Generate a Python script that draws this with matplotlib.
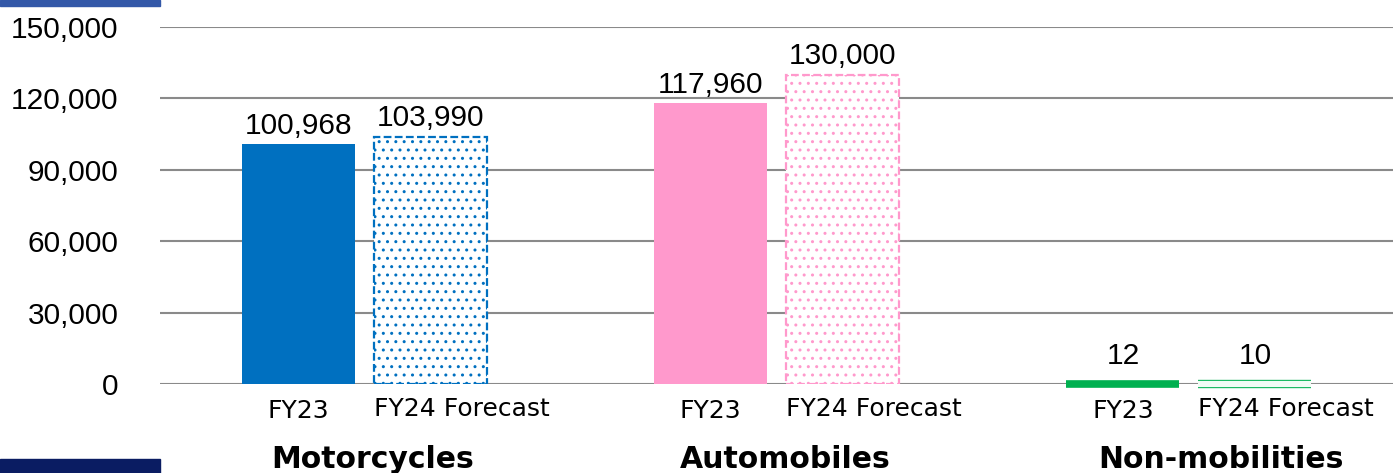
import matplotlib.pyplot as plt
from matplotlib.patches import Rectangle
from matplotlib import patheffects

# Unit sales by business segment
segments = ["Motorcycles", "Automobiles", "Non-mobilities"]
periods = ["FY23", "FY24 Forecast"]
fy23 = [100968, 117960, 12]
fy24_forecast = [103990, 130000, 10]
colors = ["#0070C0", "#FF99CC", "#00B050"]
yticks = [0, 30000, 60000, 90000, 120000, 150000]

num_font = "Liberation Sans"

fig = plt.figure(figsize=(13.93, 4.73), dpi=100)
ax = fig.add_axes([0.1149, 0.188, 0.8851, 0.755])
plt.rcParams["hatch.linewidth"] = 1.0

offset = 0.16
width = 0.274
label_shift = [0.02, 0.02, 0.078]
trans = ax.get_xaxis_transform()
for i, seg in enumerate(segments):
    small = fy23[i] < 1000
    x0 = i - offset
    x1 = i + offset
    # actual results: solid bar
    lw = 5.5 if small else 0
    ax.bar(x0, fy23[i], width=width, color=colors[i], edgecolor=colors[i],
           linewidth=lw, zorder=3, clip_on=False)
    # forecast: dotted fill with dashed outline
    if small:
        b1 = ax.bar(x1, fy24_forecast[i], width=width, color="white",
                    edgecolor=colors[i], linewidth=1, zorder=3, clip_on=False)
        b1[0].set_path_effects([
            patheffects.Stroke(linewidth=6, foreground=colors[i]),
            patheffects.Stroke(linewidth=4.5, foreground="#F2FBF5"),
        ])
    else:
        ax.bar(x1, fy24_forecast[i], width=width, color="white",
               edgecolor=colors[i], linewidth=1.6, linestyle=(0, (3.5, 1.5)),
               hatch="..", zorder=3)
    pad = 10 if small else 3
    for x, v in ((x0, fy23[i]), (x1, fy24_forecast[i])):
        ax.annotate(f"{v:,}", (x, v), xytext=(0, pad), textcoords="offset points",
                    ha="center", va="bottom", fontsize=21.5, family=num_font)
    # period labels under each bar
    ax.text(x0, -0.075, periods[0], transform=trans, ha="center", va="center",
            fontsize=18)
    ax.text(x1 - width / 2, -0.07, periods[1], transform=trans, ha="left",
            va="center", fontsize=18)
    ax.text(i + label_shift[i], -0.212, seg, transform=trans, ha="center",
            va="center", fontsize=21.5, fontweight="bold")

ax.set_xlim(-0.495, 2.495)
ax.set_ylim(0, 150000)
ax.set_yticks(yticks)
ax.set_yticklabels([f"{t:,}" for t in yticks], family=num_font, fontsize=21.5)
ax.tick_params(axis="y", length=0, pad=30)
ax.set_xticks([])
ax.yaxis.grid(True, color="#8A8A8A", linewidth=1.5, zorder=0)
for side in ("top", "right", "left", "bottom"):
    ax.spines[side].set_visible(False)

# slide frame pieces at the left edge
fig.patches.append(Rectangle((0, 1 - 6 / 473), 160 / 1393, 6 / 473,
                             transform=fig.transFigure, color="#3358A8", zorder=5))
fig.patches.append(Rectangle((0, 0), 160 / 1393, 14 / 473,
                             transform=fig.transFigure, color="#0A1C62", zorder=5))

fig.savefig("out.png", dpi=100)
